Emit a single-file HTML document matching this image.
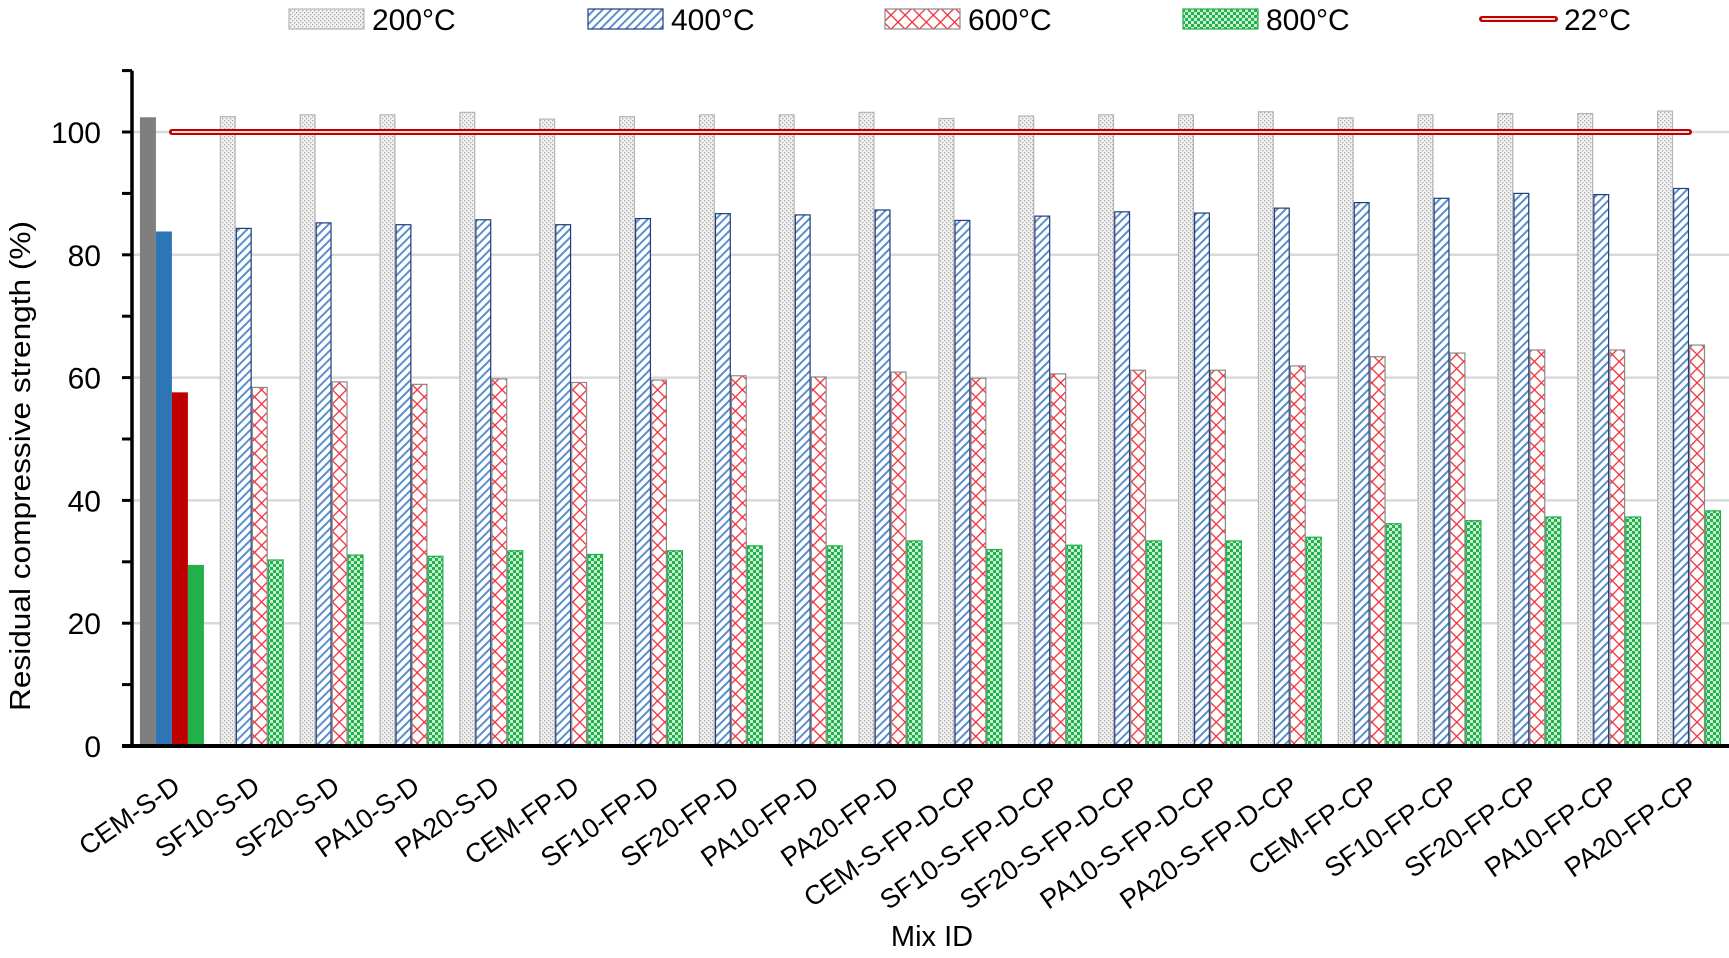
<!DOCTYPE html>
<html><head><meta charset="utf-8"><style>
html,body{margin:0;padding:0;background:#fff;}
svg{display:block;font-family:"Liberation Sans",Arial,sans-serif;}
</style></head><body>
<svg id="chart" width="1729" height="958" viewBox="0 0 1729 958" xmlns="http://www.w3.org/2000/svg">
<defs>
<pattern id="pDot" width="4" height="4" patternUnits="userSpaceOnUse"><rect width="4" height="4" fill="#f2f2f2"/><rect x="0" y="0" width="1.3" height="1.3" fill="#a8a8a8"/><rect x="2" y="2" width="1.3" height="1.3" fill="#a8a8a8"/></pattern>
<pattern id="pDiag" width="6" height="6" patternUnits="userSpaceOnUse" patternTransform="rotate(45)"><rect width="6" height="6" fill="#fff"/><rect x="0" y="0" width="2" height="6" fill="#5b8fd0"/></pattern>
<pattern id="pCross" width="10" height="10" patternUnits="userSpaceOnUse" patternTransform="rotate(45)"><rect width="10" height="10" fill="#fff"/><rect x="0" y="0" width="1.3" height="10" fill="#f0303a"/><rect x="0" y="0" width="10" height="1.3" fill="#f0303a"/></pattern>
<pattern id="pCheck" width="6" height="6" patternUnits="userSpaceOnUse"><rect width="6" height="6" fill="#22b14c"/><rect x="0" y="0" width="3" height="3" fill="#c8efd2"/><rect x="3" y="3" width="3" height="3" fill="#c8efd2"/></pattern>
</defs>
<g id="grid"></g>
<g id="bars"></g>
<g id="axes"></g>
<g id="legend"></g>
<text x="0" y="0" transform="translate(30,466) rotate(-90)" text-anchor="middle" font-size="29" textLength="490" lengthAdjust="spacingAndGlyphs" fill="#000">Residual compressive strength (%)</text>
<text x="932" y="946" text-anchor="middle" font-size="29" fill="#000">Mix ID</text>
</svg>
<script>
const categories = ["CEM-S-D","SF10-S-D","SF20-S-D","PA10-S-D","PA20-S-D","CEM-FP-D","SF10-FP-D","SF20-FP-D","PA10-FP-D","PA20-FP-D","CEM-S-FP-D-CP","SF10-S-FP-D-CP","SF20-S-FP-D-CP","PA10-S-FP-D-CP","PA20-S-FP-D-CP","CEM-FP-CP","SF10-FP-CP","SF20-FP-CP","PA10-FP-CP","PA20-FP-CP"];
const s200 = [102.3,102.5,102.8,102.8,103.2,102.1,102.5,102.8,102.8,103.2,102.2,102.6,102.8,102.8,103.3,102.3,102.8,103.0,103.0,103.4];
const s400 = [83.7,84.3,85.2,84.9,85.7,84.9,85.9,86.7,86.5,87.3,85.6,86.3,87.0,86.8,87.6,88.5,89.2,90.0,89.8,90.8];
const s600 = [57.5,58.4,59.3,58.9,59.8,59.2,59.6,60.3,60.1,60.9,59.9,60.6,61.2,61.2,61.9,63.4,64.0,64.5,64.5,65.3];
const s800 = [29.4,30.3,31.1,30.9,31.8,31.2,31.8,32.6,32.6,33.4,32.0,32.7,33.4,33.4,34.0,36.2,36.7,37.3,37.3,38.3];
const ref22 = 100;
const yTicks = [0,20,40,60,80,100];
const yMinor = [10,30,50,70,90,110];
const seriesNames = ["200°C","400°C","600°C","800°C"];

const NS="http://www.w3.org/2000/svg";
const X0=132, X1=1729, Y0=746, PX=6.14;
const catW=(X1-X0)/categories.length, barW=16;
function yS(v){return Y0-v*PX;}
function xC(i){return X0+catW*(i+0.5);}
function mk(tag,attrs,parent){const e=document.createElementNS(NS,tag);for(const k in attrs)e.setAttribute(k,attrs[k]);parent.appendChild(e);return e;}
const grid=document.getElementById('grid'),bars=document.getElementById('bars'),axes=document.getElementById('axes'),legend=document.getElementById('legend');

yTicks.forEach(t=>{
  if(t>0){const g=mk('line',{x1:X0,x2:X1,y1:yS(t),y2:yS(t),stroke:'#d9d9d9','stroke-width':2.5},grid);
  
  }
  const tl=mk('text',{x:101,y:yS(t)+11,'text-anchor':'end','font-size':30,fill:'#000'},axes);
  tl.textContent=t;
  
  
  const tk=mk('line',{x1:X0-10,x2:X0,y1:yS(t),y2:yS(t),stroke:'#000','stroke-width':3},axes);
  
  
});
yMinor.forEach(t=>{
  const tk=mk('line',{x1:X0-10,x2:X0,y1:yS(t),y2:yS(t),stroke:'#000','stroke-width':3},axes);
  
  
});

const solid=["#7f7f7f","#2e75b6","#c00000","#21b04a"];
const fills=["url(#pDot)","url(#pDiag)","url(#pCross)","url(#pCheck)"];
const strokes=["#b4b4b4","#1f3d7a","#8a8a8a","#21b04a"];
const all=[s200,s400,s600,s800];
categories.forEach((c,i)=>{
  const start=xC(i)-2*barW;
  all.forEach((arr,s)=>{
    const v=arr[i];
    const r=mk('rect',{x:start+s*barW+0.6,y:yS(v),width:barW-1.2,height:v*PX,fill:i===0?solid[s]:fills[s],stroke:i===0?solid[s]:strokes[s],'stroke-width':1.2},bars);
    
    
  });
  const lx=xC(i)+10, ly=790;
  const lb=mk('text',{x:lx,y:ly,transform:`rotate(-35 ${lx} ${ly})`,'text-anchor':'end','font-size':27,fill:'#000'},axes);
  lb.textContent=c;
  
  
});

const rl1=mk('line',{x1:xC(0),x2:xC(categories.length-1),y1:yS(ref22),y2:yS(ref22),stroke:'#c00000','stroke-width':6,'stroke-linecap':'round'},bars);


const rl2=mk('line',{x1:xC(0),x2:xC(categories.length-1),y1:yS(ref22),y2:yS(ref22),stroke:'#fff','stroke-width':1.8},bars);



const ya=mk('line',{x1:X0,x2:X0,y1:yS(110),y2:Y0+2,stroke:'#000','stroke-width':3.5},axes);


const xa=mk('line',{x1:X0-10,x2:X1,y1:Y0,y2:Y0,stroke:'#000','stroke-width':4},axes);



const lgX=[289,588,885,1183];
seriesNames.forEach((n,s)=>{
  const sw=mk('rect',{x:lgX[s],y:9,width:75,height:20,fill:fills[s],stroke:strokes[s],'stroke-width':1.2},legend);
  
  
  const t=mk('text',{x:lgX[s]+83,y:30,'font-size':30,fill:'#000'},legend);
  t.textContent=n;
  
  
});
const ll=mk('line',{x1:1482,x2:1555,y1:19,y2:19,stroke:'#c00000','stroke-width':6,'stroke-linecap':'round'},legend);


const ll2=mk('line',{x1:1482,x2:1555,y1:19,y2:19,stroke:'#fff','stroke-width':1.8},legend);


const lt=mk('text',{x:1564,y:30,'font-size':30,fill:'#000'},legend);
lt.textContent="22°C";


</script>
</body></html>
